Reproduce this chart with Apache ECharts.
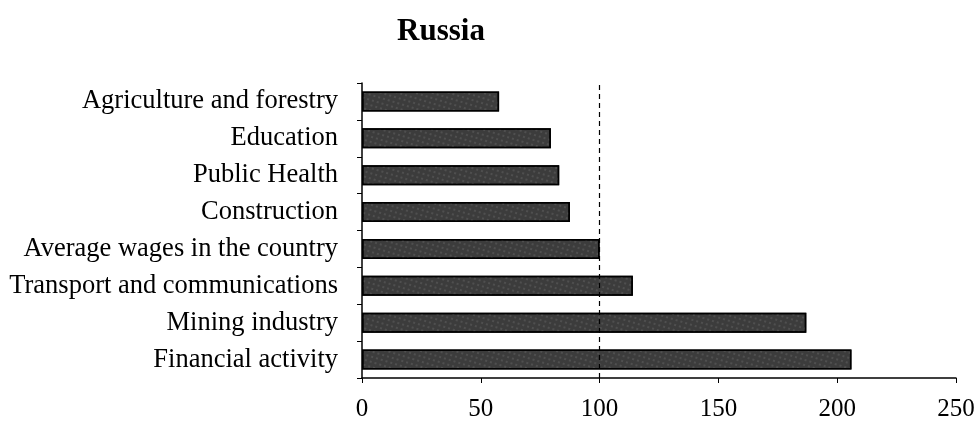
<!DOCTYPE html>
<html><head><meta charset="utf-8">
<script src="https://cdn.jsdelivr.net/npm/echarts@6/dist/echarts.min.js"></script>
<style>html,body{margin:0;padding:0;background:#fff}#c{width:978px;height:422px}</style>
</head><body><div id="c"></div>
<script>
const categories = ["Financial activity","Mining industry","Transport and communications","Average wages in the country","Construction","Public Health","Education","Agriculture and forestry"];
const values = [206, 187, 114, 100, 87.5, 83, 79.5, 57.7];
const xTicks = [0, 50, 100, 150, 200, 250];
const refValue = 100;

const font = "'Liberation Serif', 'Times New Roman', serif";
const chart = echarts.init(document.getElementById('c'));
chart.setOption({
  animation: false,
  title: { text: 'Russia', left: 436, top: 11, textAlign: 'center',
    textStyle: { fontFamily: font, fontSize: 31, fontWeight: 'bold', color: '#000' } },
  grid: { left: 362, right: 22, top: 83, bottom: 44 },
  xAxis: { type: 'value', min: xTicks[0], max: xTicks[xTicks.length-1], interval: 50,
    axisLine: { show: true, lineStyle: { color: '#000', width: 1.5 } },
    axisTick: { show: true, length: 5, lineStyle: { color: '#000' } },
    splitLine: { show: false },
    axisLabel: { fontFamily: font, fontSize: 25, color: '#000', margin: 19 } },
  yAxis: { type: 'category', data: categories,
    axisLine: { show: true, lineStyle: { color: '#000', width: 1.5 } },
    axisTick: { show: true, length: 5, lineStyle: { color: '#000' } },
    axisLabel: { fontFamily: font, fontSize: 26.5, color: '#000', margin: 24 } },
  series: [{
    type: 'bar', data: values, barWidth: 20,
    itemStyle: { color: '#3c3c3c', borderColor: '#000', borderWidth: 1.5,
      decal: { symbol: 'rect', symbolSize: 0.5, color: 'rgba(255,255,255,0.4)', dashArrayX: [2, 3], dashArrayY: [2, 3], rotation: 0.3 } },
    markLine: { silent: true, symbol: 'none', label: { show: false },
      lineStyle: { color: '#000', type: [5, 4], width: 1.2 },
      data: [{ xAxis: refValue }] }
  }]
});
</script></body></html>
